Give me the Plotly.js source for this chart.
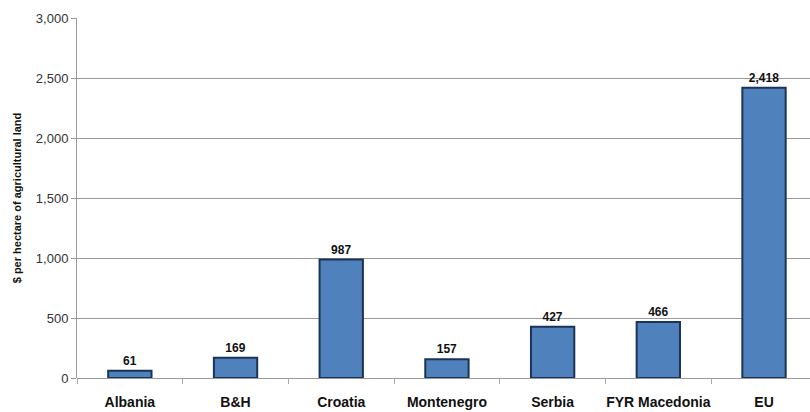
<!DOCTYPE html>
<html><head><meta charset="utf-8">
<script src="https://cdn.plot.ly/plotly-3.0.1.min.js"></script>
<style>html,body{margin:0;padding:0;background:#fff}</style>
</head><body>
<div id="chart" style="width:810px;height:412px"></div>
<script>
var categories = ["Albania", "B&H", "Croatia", "Montenegro", "Serbia", "FYR Macedonia", "EU"];
var values = [61, 169, 987, 157, 427, 466, 2418];
var yTicks = [0, 500, 1000, 1500, 2000, 2500, 3000];
var yTickLabels = ["0", "500", "1,000", "1,500", "2,000", "2,500", "3,000"];
var yTitle = "$ per hectare of agricultural land";

var trace = {
  type: "bar",
  x: categories,
  y: values,
  width: 0.41,
  marker: {color: "#4F81BD", line: {color: "#1B3358", width: 2}},
  text: values.map(function(v){return v.toLocaleString("en-US");}),
  textposition: "outside",
  cliponaxis: false,
  textfont: {family: "Liberation Sans, Arial, sans-serif", size: 12, color: "#111", weight: "bold"},
  hoverinfo: "none"
};
var layout = {
  width: 810, height: 412,
  margin: {l: 77, r: 0, t: 18, b: 34},
  paper_bgcolor: "#fff", plot_bgcolor: "#fff",
  showlegend: false,
  xaxis: {
    range: [-0.5, 6.435],
    showgrid: false,
    showline: false,
    ticks: "outside", ticklen: 5, tickcolor: "#aaa",
    tickson: "boundaries",
    tickangle: 0,
    automargin: false,
    tickfont: {family: "Liberation Sans, Arial, sans-serif", size: 14, color: "#111", weight: "bold"},
    ticklabelstandoff: 14,
    zeroline: false
  },
  yaxis: {
    range: [0, 3000],
    automargin: false,
    tickvals: yTicks, ticktext: yTickLabels,
    showgrid: true, gridcolor: "#9a9a9a", gridwidth: 1,
    showline: true, linecolor: "#9a9a9a", linewidth: 1,
    ticks: "outside", ticklen: 5, tickcolor: "#9a9a9a",
    tickfont: {family: "Liberation Sans, Arial, sans-serif", size: 13, color: "#333"},
    zeroline: true, zerolinecolor: "#9a9a9a", zerolinewidth: 1,
    title: {text: yTitle, standoff: 12, font: {family: "Liberation Sans, Arial, sans-serif", size: 11, color: "#111", weight: "bold"}}
  }
};
Plotly.newPlot("chart", [trace], layout, {displayModeBar: false, staticPlot: true});
</script>
</body></html>
